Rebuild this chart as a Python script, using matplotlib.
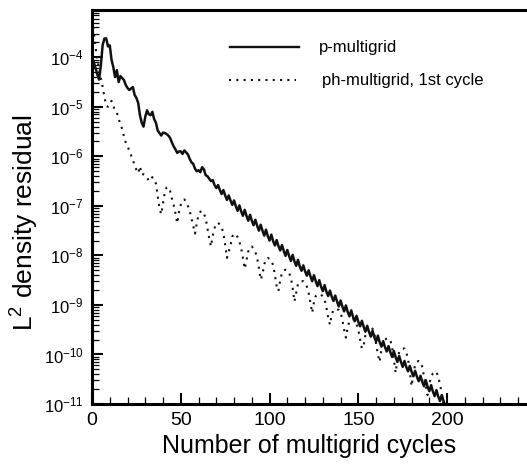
import matplotlib

matplotlib.use("Agg")
import matplotlib.pyplot as plt
from matplotlib.lines import Line2D
from matplotlib.ticker import FixedLocator, NullFormatter

plt.rcParams["font.family"] = ["Liberation Sans", "DejaVu Sans"]
plt.rcParams["mathtext.default"] = "regular"

# log10 of the L2 density residual, one value per multigrid cycle (0..200)
p_mg_log = [
    -4.00, -4.10, -4.22, -4.35, -4.45, -4.15, -3.75, -3.62, -3.62, -3.78,
    -3.76, -4.05, -4.20, -4.40, -4.26, -4.50, -4.38, -4.42, -4.46, -4.56,
    -4.62, -4.66, -4.63, -4.60, -4.76, -4.82, -4.92, -5.17, -5.32, -5.40,
    -5.20, -5.07, -5.15, -5.17, -5.10, -5.25, -5.32, -5.48, -5.53, -5.58,
    -5.52, -5.53, -5.55, -5.58, -5.63, -5.72, -5.80, -5.86, -5.93, -5.90,
    -5.90, -5.95, -5.88, -5.92, -5.96, -6.05, -6.12, -6.15, -6.25, -6.30,
    -6.28, -6.32, -6.22, -6.26, -6.38, -6.40, -6.45, -6.50, -6.48, -6.58,
    -6.64, -6.58, -6.68, -6.76, -6.68, -6.79, -6.88, -6.79, -6.89, -6.98,
    -6.89, -7.01, -7.10, -6.99, -7.11, -7.20, -7.08, -7.20, -7.30, -7.18,
    -7.30, -7.39, -7.28, -7.40, -7.50, -7.38, -7.50, -7.60, -7.48, -7.61,
    -7.70, -7.58, -7.71, -7.80, -7.69, -7.81, -7.90, -7.79, -7.91, -8.01,
    -7.89, -8.01, -8.11, -7.99, -8.12, -8.21, -8.09, -8.22, -8.31, -8.20,
    -8.32, -8.41, -8.30, -8.42, -8.52, -8.40, -8.52, -8.62, -8.50, -8.63,
    -8.72, -8.60, -8.73, -8.82, -8.71, -8.83, -8.92, -8.81, -8.93, -9.03,
    -8.91, -9.03, -9.13, -9.01, -9.14, -9.23, -9.11, -9.24, -9.33, -9.22,
    -9.34, -9.43, -9.32, -9.44, -9.54, -9.42, -9.54, -9.64, -9.52, -9.65,
    -9.74, -9.62, -9.75, -9.84, -9.73, -9.85, -9.94, -9.83, -9.95, -10.05,
    -9.93, -10.05, -10.15, -10.03, -10.15, -10.25, -10.13, -10.25, -10.34, -10.23,
    -10.35, -10.44, -10.33, -10.45, -10.54, -10.43, -10.55, -10.64, -10.52, -10.65,
    -10.74, -10.62, -10.75, -10.84, -10.72, -10.85, -10.94, -10.82, -10.94, -11.04,
    -11.08,
]

ph_mg_log = [
    -3.25, -3.50, -3.80, -4.05, -4.25, -4.42, -4.60, -4.80, -4.98, -5.00,
    -4.92, -4.88, -4.98, -5.08, -5.12, -5.24, -5.35, -5.45, -5.60, -5.72,
    -5.80, -5.88, -5.98, -6.07, -6.18, -6.27, -6.34, -6.20, -6.37, -6.36,
    -6.38, -6.42, -6.50, -6.48, -6.42, -6.48, -6.55, -6.80, -7.05, -7.17,
    -6.95, -6.72, -6.63, -6.62, -6.70, -6.85, -6.98, -7.15, -7.35, -7.12,
    -6.98, -6.90, -6.87, -6.92, -7.00, -7.10, -7.25, -7.40, -7.56, -7.35,
    -7.18, -7.12, -7.10, -7.15, -7.25, -7.45, -7.65, -7.82, -7.60, -7.45,
    -7.36, -7.34, -7.38, -7.43, -7.55, -7.78, -8.05, -7.92, -7.80, -7.62,
    -7.56, -7.58, -7.63, -7.72, -7.85, -8.05, -8.27, -8.10, -7.92, -7.83,
    -7.82, -7.87, -7.93, -8.05, -8.25, -8.49, -8.38, -8.18, -8.07, -8.05,
    -8.07, -8.10, -8.20, -8.40, -8.62, -8.72, -8.50, -8.35, -8.30, -8.29,
    -8.30, -8.35, -8.45, -8.65, -8.93, -8.75, -8.58, -8.53, -8.52, -8.52,
    -8.56, -8.63, -8.75, -8.95, -9.16, -8.95, -8.82, -8.79, -8.79, -8.79,
    -8.83, -8.90, -9.05, -9.25, -9.40, -9.20, -9.10, -9.08, -9.09, -9.10,
    -9.15, -9.30, -9.50, -9.66, -9.45, -9.33, -9.30, -9.29, -9.31, -9.38,
    -9.50, -9.70, -9.88, -9.82, -9.60, -9.48, -9.45, -9.44, -9.48, -9.58,
    -9.78, -10.00, -10.15, -9.90, -9.75, -9.70, -9.68, -9.68, -9.70, -9.85,
    -10.10, -10.37, -10.10, -9.95, -9.90, -9.88, -9.88, -9.95, -10.10, -10.35,
    -10.64, -10.40, -10.20, -10.15, -10.13, -10.15, -10.25, -10.45, -10.65, -10.82,
    -10.60, -10.45, -10.38, -10.35, -10.35, -10.45, -10.60, -10.80, -11.00, -11.20,
    -11.40,
]

cycles = list(range(len(p_mg_log)))
p_mg = [10.0 ** v for v in p_mg_log]
ph_mg = [10.0 ** v for v in ph_mg_log]

y_exponents = [-11, -10, -9, -8, -7, -6, -5, -4]
y_labels = [f"10$^{{-{-e}}}$" for e in y_exponents]
x_ticks = [0, 50, 100, 150, 200]

fig = plt.figure(figsize=(5.27, 4.66), dpi=100)
ax = fig.add_axes([0.1746, 0.133, 0.8254, 0.8455])

ax.plot(cycles, p_mg, color="#111111", lw=1.8)
ax.plot(cycles, ph_mg, color="#111111", lw=1.5, dashes=(1, 2.5))

ax.set_yscale("log")
ax.set_ylim(1e-11, 9e-4)
ax.set_xlim(0, 245)

ax.set_yticks([10.0 ** e for e in y_exponents])
ax.set_yticklabels(y_labels, fontsize=12)
minor_y = [m * 10.0 ** e for e in range(-11, -3) for m in range(2, 10)]
ax.yaxis.set_minor_locator(FixedLocator(minor_y))
ax.yaxis.set_minor_formatter(NullFormatter())

ax.set_xticks(x_ticks)
ax.set_xticklabels([str(t) for t in x_ticks], fontsize=14)
ax.xaxis.set_minor_locator(FixedLocator(list(range(0, 250, 10))))

ax.tick_params(which="major", direction="in", length=8, width=1.5, pad=6)
ax.tick_params(which="minor", direction="in", length=5, width=0.9)
ax.tick_params(top=False, right=False)

for side in ("left", "bottom", "top"):
    ax.spines[side].set_linewidth(2.2)
ax.spines["right"].set_visible(False)

ax.set_xlabel("Number of multigrid cycles", fontsize=18, labelpad=3)
ax.set_ylabel("L$^2$ density residual", fontsize=19)
ax.yaxis.set_label_coords(-0.118, 0.46)

# legend drawn by hand: sample line plus label
ax.add_line(Line2D([0.317, 0.475], [0.905, 0.905], transform=ax.transAxes,
                   color="#111111", lw=1.7))
ax.add_line(Line2D([0.315, 0.470], [0.822, 0.822], transform=ax.transAxes,
                   color="#111111", lw=1.5, dashes=(1, 2.5)))
ax.text(0.522, 0.905, "p-multigrid", transform=ax.transAxes,
        fontsize=12, va="center", ha="left")
ax.text(0.528, 0.822, "ph-multigrid, 1st cycle", transform=ax.transAxes,
        fontsize=12, va="center", ha="left")

fig.savefig("out.png", dpi=100)
